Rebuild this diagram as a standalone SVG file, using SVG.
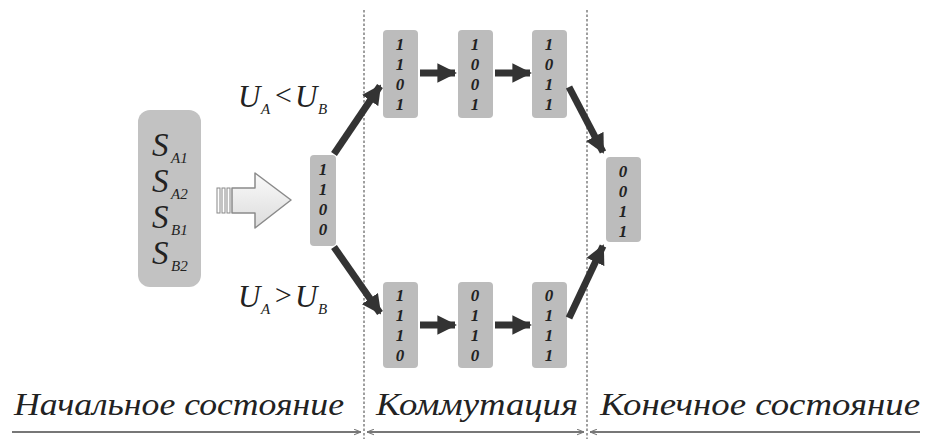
<svg xmlns="http://www.w3.org/2000/svg" width="931" height="439" viewBox="0 0 931 439">
<defs>
<style>
text{font-family:"Liberation Serif","Times New Roman","DejaVu Serif",serif;}
.node{fill:#bcbcbc;}
.dig{font-style:italic;font-weight:bold;font-size:17px;fill:#222;text-anchor:middle;}
.lbl{font-style:italic;fill:#222;}
.big{font-size:33px;fill:#222;font-style:italic;}
.sub{font-style:italic;font-size:15px;fill:#222;}
.arr{stroke:#333;stroke-width:7;fill:none;marker-end:url(#ah);}
.dash{stroke:#888;stroke-width:1.6;stroke-dasharray:2.5,2;}
.bl{stroke:#777;stroke-width:1.8;fill:none;}
</style>
<marker id="ah" viewBox="0 0 10 10" refX="9" refY="5" markerWidth="2.8" markerHeight="2.8" orient="auto" markerUnits="strokeWidth">
<path d="M0,0 L10,5 L0,10 Z" fill="#333"/>
</marker>
<marker id="thin" viewBox="0 0 10 10" refX="10" refY="5" markerWidth="7" markerHeight="7" orient="auto-start-reverse" markerUnits="userSpaceOnUse">
<path d="M0,1 L10,5 L0,9" fill="none" stroke="#777" stroke-width="1.5"/>
</marker>
<linearGradient id="hg" x1="0" y1="0" x2="0" y2="1">
<stop offset="0" stop-color="#fafafa"/><stop offset="1" stop-color="#dcdcdc"/>
</linearGradient>
</defs>
<rect width="931" height="439" fill="#fff"/>

<g id="dividers">
<line class="dash" x1="364" y1="10" x2="364" y2="439"/>
<line class="dash" x1="587" y1="10" x2="587" y2="439"/>
</g>

<g id="initial">
<rect x="138" y="110" width="63" height="177" rx="12" fill="#c2c2c2"/>
<text class="big" x="152" y="156">S</text><text class="sub" x="171" y="163">A1</text>
<text class="big" x="152" y="192">S</text><text class="sub" x="171" y="199">A2</text>
<text class="big" x="152" y="228">S</text><text class="sub" x="171" y="235">B1</text>
<text class="big" x="152" y="264">S</text><text class="sub" x="171" y="271">B2</text>
</g>

<g id="hollow-arrow">
<rect x="217" y="188" width="3" height="25" fill="none" stroke="#888" stroke-width="1"/>
<rect x="222" y="188" width="3" height="25" fill="none" stroke="#888" stroke-width="1"/>
<rect x="227" y="188" width="3" height="25" fill="none" stroke="#888" stroke-width="1"/>
<path d="M232,188 L255,188 L255,173 L291,200 L255,228 L255,213 L232,213 Z" fill="url(#hg)" stroke="#8a8a8a" stroke-width="1.5" stroke-linejoin="round"/>
</g>

<g id="n1100">
<rect class="node" x="310" y="155" width="26" height="91" rx="4"/>
<text class="dig" x="323" y="175">1</text><text class="dig" x="323" y="195">1</text><text class="dig" x="323" y="215">0</text><text class="dig" x="323" y="235">0</text>
</g>

<g id="n1101">
<rect class="node" x="383" y="30" width="35" height="88" rx="4"/>
<text class="dig" x="400" y="50">1</text><text class="dig" x="400" y="70">1</text><text class="dig" x="400" y="90">0</text><text class="dig" x="400" y="110">1</text>
</g>
<g id="n1001">
<rect class="node" x="458" y="30" width="35" height="88" rx="4"/>
<text class="dig" x="475" y="50">1</text><text class="dig" x="475" y="70">0</text><text class="dig" x="475" y="90">0</text><text class="dig" x="475" y="110">1</text>
</g>
<g id="n1011">
<rect class="node" x="532" y="30" width="35" height="88" rx="4"/>
<text class="dig" x="549" y="50">1</text><text class="dig" x="549" y="70">0</text><text class="dig" x="549" y="90">1</text><text class="dig" x="549" y="110">1</text>
</g>

<g id="n1110">
<rect class="node" x="383" y="282" width="35" height="86" rx="4"/>
<text class="dig" x="400" y="301">1</text><text class="dig" x="400" y="321">1</text><text class="dig" x="400" y="341">1</text><text class="dig" x="400" y="361">0</text>
</g>
<g id="n0110">
<rect class="node" x="458" y="282" width="35" height="86" rx="4"/>
<text class="dig" x="475" y="301">0</text><text class="dig" x="475" y="321">1</text><text class="dig" x="475" y="341">1</text><text class="dig" x="475" y="361">0</text>
</g>
<g id="n0111">
<rect class="node" x="532" y="282" width="35" height="86" rx="4"/>
<text class="dig" x="549" y="301">0</text><text class="dig" x="549" y="321">1</text><text class="dig" x="549" y="341">1</text><text class="dig" x="549" y="361">1</text>
</g>

<g id="n0011">
<rect class="node" x="606" y="157" width="35" height="85" rx="4"/>
<text class="dig" x="623" y="177">0</text><text class="dig" x="623" y="197">0</text><text class="dig" x="623" y="217">1</text><text class="dig" x="623" y="237">1</text>
</g>

<g id="labels">
<text class="lbl" x="238" y="107" font-size="31">U</text><text class="sub" x="261" y="114">A</text><text class="lbl" x="273" y="105" font-size="30" font-style="normal">&lt;</text><text class="lbl" x="295" y="107" font-size="31">U</text><text class="sub" x="318" y="114">B</text>
<text class="lbl" x="238" y="307" font-size="31">U</text><text class="sub" x="261" y="314">A</text><text class="lbl" x="273" y="305" font-size="30" font-style="normal">&gt;</text><text class="lbl" x="295" y="307" font-size="31">U</text><text class="sub" x="318" y="314">B</text>
</g>

<g id="connectors">
<line class="arr" x1="334" y1="154" x2="380" y2="86"/>
<line class="arr" x1="334" y1="247" x2="380" y2="313"/>
<line class="arr" x1="420" y1="73" x2="455" y2="73"/>
<line class="arr" x1="495" y1="73" x2="530" y2="73"/>
<line class="arr" x1="420" y1="325" x2="455" y2="325"/>
<line class="arr" x1="495" y1="325" x2="530" y2="325"/>
<line class="arr" x1="569" y1="87" x2="603" y2="152"/>
<line class="arr" x1="569" y1="318" x2="603" y2="246"/>
</g>

<g id="phases">
<text class="lbl" x="14" y="415" font-size="31" textLength="330" lengthAdjust="spacingAndGlyphs">Начальное состояние</text>
<text class="lbl" x="376" y="415" font-size="31" textLength="202" lengthAdjust="spacingAndGlyphs">Коммутация</text>
<text class="lbl" x="600" y="415" font-size="31" textLength="320" lengthAdjust="spacingAndGlyphs">Конечное состояние</text>
<line class="bl" x1="12" y1="432" x2="361" y2="432" marker-end="url(#thin)"/>
<line class="bl" x1="367" y1="432" x2="584" y2="432" marker-start="url(#thin)" marker-end="url(#thin)"/>
<line class="bl" x1="590" y1="432" x2="920" y2="432" marker-start="url(#thin)"/>
</g>
</svg>
